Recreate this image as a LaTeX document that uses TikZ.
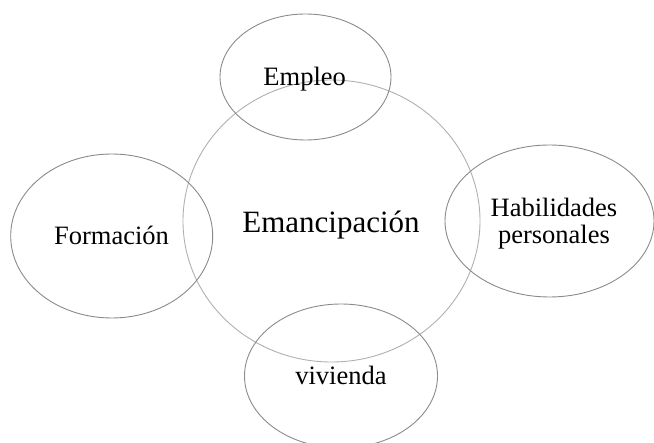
\documentclass[tikz,border=0pt]{standalone}
\usepackage{fontspec}
\setmainfont{Liberation Serif}
\usetikzlibrary{shapes.geometric}
\definecolor{ringgray}{HTML}{8A8A8A}
\definecolor{biggray}{HTML}{B0B0B0}
\begin{document}
\begin{tikzpicture}[x=1pt,y=1pt,
  ring/.style={draw=ringgray,line width=0.9pt,ellipse,inner sep=0pt,outer sep=0pt},
  bigring/.style={draw=biggray,line width=0.9pt,ellipse,inner sep=0pt,outer sep=0pt},
  lbl/.style={font=\fontsize{26.5}{26.7}\selectfont,inner sep=0pt,anchor=base,align=center},
  biglbl/.style={font=\fontsize{31}{33}\selectfont,inner sep=0pt,anchor=base}]
\useasboundingbox (0,0) rectangle (654,-443);
\clip (0,0) rectangle (654,-443);
\node[bigring,minimum width=297pt,minimum height=282pt] (eman) at (331.5,-221) {};
\node[ring,minimum width=171pt,minimum height=126pt] (emp) at (305.5,-77) {};
\node[ring,minimum width=202pt,minimum height=164pt] (form) at (111.7,-236) {};
\node[ring,minimum width=209pt,minimum height=152pt] (hab) at (549.5,-221) {};
\node[ring,minimum width=193pt,minimum height=144pt] (viv) at (341,-376) {};
\node[biglbl] (temancipacion) at (331,-233) {Emancipación};
\node[lbl] (templeo) at (304.7,-86) {Empleo};
\node[lbl] (tformacion) at (111.5,-245) {Formación};
\node[lbl] (thab) at (554,-243.4) {Habilidades\\personales};
\node[lbl] (tviv) at (341,-385) {vivienda};
\end{tikzpicture}
\end{document}
